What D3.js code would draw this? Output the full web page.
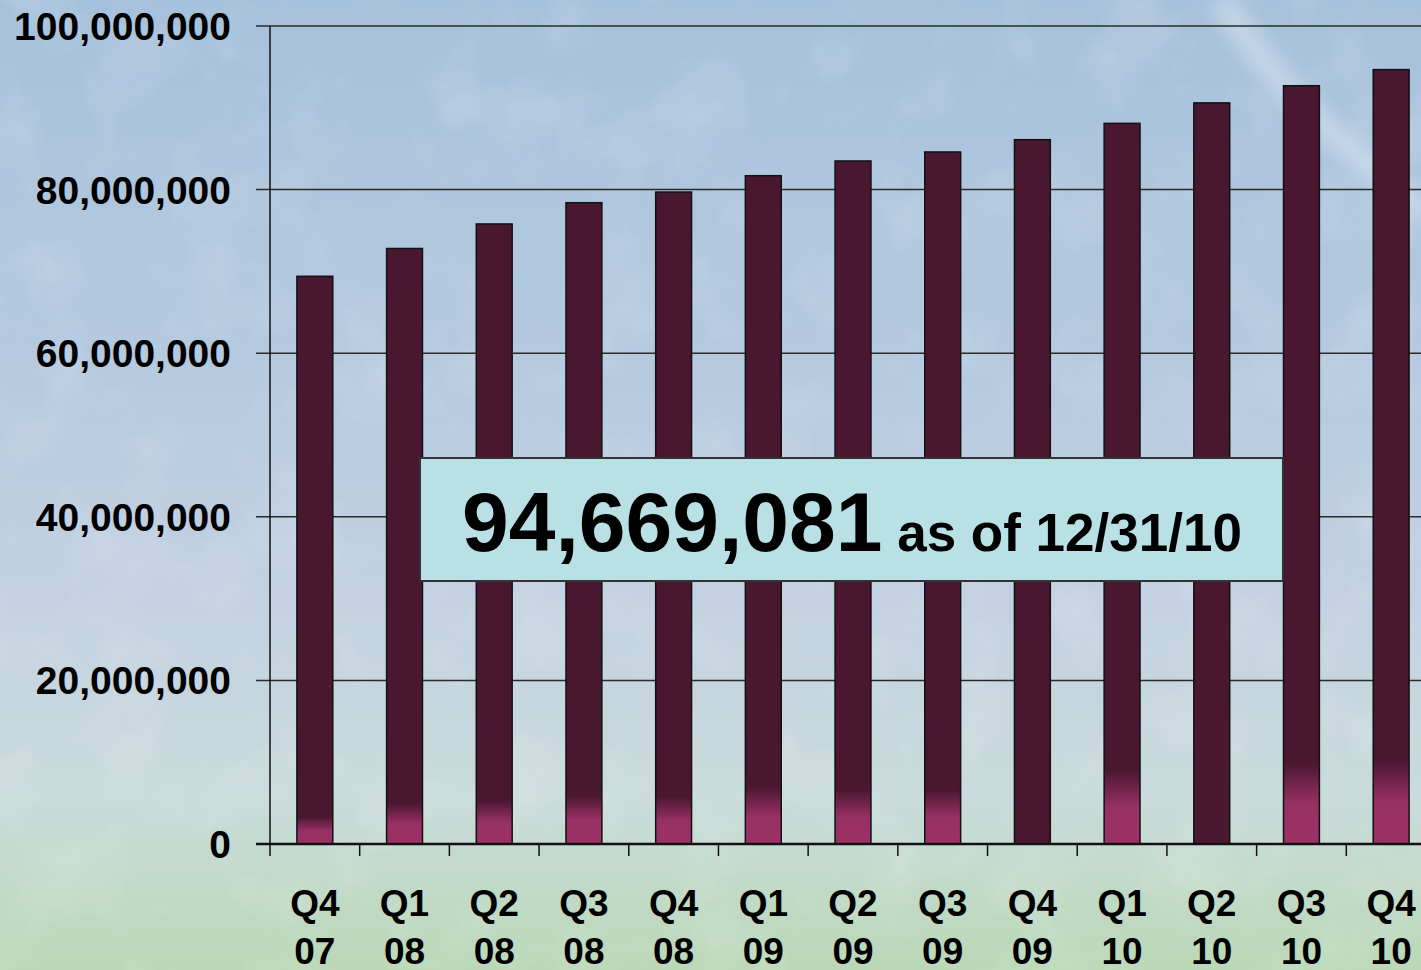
<!DOCTYPE html>
<html>
<head>
<meta charset="utf-8">
<script src="https://cdn.jsdelivr.net/npm/d3@7"></script>
<style>
  html, body { margin: 0; padding: 0; overflow: hidden; }
  svg { display: block; font-family: "Liberation Sans", Arial, sans-serif; font-weight: bold; }
</style>
</head>
<body>
<svg width="1421" height="970"></svg>
<script>
// Quarterly totals
const quarters = ["Q4", "Q1", "Q2", "Q3", "Q4", "Q1", "Q2", "Q3", "Q4", "Q1", "Q2", "Q3", "Q4"];
const years    = ["07", "08", "08", "08", "08", "09", "09", "09", "09", "10", "10", "10", "10"];
const totals   = [69400000, 72800000, 75800000, 78400000, 79700000, 81700000, 83500000,
                  84600000, 86100000, 88100000, 90600000, 92700000, 94669081];
const yTicks   = [0, 20000000, 40000000, 60000000, 80000000, 100000000];

// height (px) of the pink glow at the foot of each bar
const glow = [27, 41, 44, 49, 47, 57, 54, 54, 0, 74, 0, 81, 84];

const svg = d3.select("svg"),
      width = 1421,
      height = 970;

const margin = {left: 270, top: 26, bottom: 844};

const data = totals.map((v, i) => ({id: i, q: quarters[i], yr: years[i], value: v, glow: glow[i]}));

const x = d3.scaleBand()
    .domain(data.map(d => d.id))
    .range([margin.left, 1436])
    .paddingInner(0.6)
    .paddingOuter(0.3);

const y = d3.scaleLinear()
    .domain([0, 100000000])
    .range([margin.bottom, margin.top]);

const defs = svg.append("defs");

// background sky
const bg = defs.append("linearGradient")
    .attr("id", "bg")
    .attr("x1", 0).attr("y1", 0).attr("x2", 0).attr("y2", 1);
bg.append("stop").attr("offset", "0%").attr("stop-color", "#a6c1db");
bg.append("stop").attr("offset", "35%").attr("stop-color", "#b4c9df");
bg.append("stop").attr("offset", "62%").attr("stop-color", "#c3d1e2");
bg.append("stop").attr("offset", "82%").attr("stop-color", "#c9dbdb");
bg.append("stop").attr("offset", "100%").attr("stop-color", "#bad8b6");

const noise = defs.append("filter").attr("id", "noise")
    .attr("x", 0).attr("y", 0).attr("width", "100%").attr("height", "100%");
noise.append("feTurbulence")
    .attr("type", "fractalNoise")
    .attr("baseFrequency", "0.012")
    .attr("numOctaves", 4)
    .attr("seed", 7);
noise.append("feColorMatrix")
    .attr("type", "matrix")
    .attr("values", "0 0 0 0 1  0 0 0 0 1  0 0 0 0 1  0 0 0 1.6 -0.75");

const streak = defs.append("filter").attr("id", "blur")
    .attr("x", "-20%").attr("y", "-20%").attr("width", "140%").attr("height", "140%");
streak.append("feGaussianBlur").attr("stdDeviation", 9);

svg.append("rect")
    .attr("width", width).attr("height", height)
    .attr("fill", "url(#bg)");

svg.append("rect")
    .attr("width", width).attr("height", height)
    .attr("filter", "url(#noise)")
    .attr("opacity", 0.22);

// faint cloud streak top right
svg.append("path")
    .attr("d", "M1220,0 C1255,50 1290,100 1340,140 C1375,170 1405,195 1421,215")
    .attr("fill", "none")
    .attr("stroke", "#e4edf6")
    .attr("stroke-width", 26)
    .attr("opacity", 0.45)
    .attr("filter", "url(#blur)");

// gridlines
svg.append("g")
    .selectAll("line")
    .data(yTicks.filter(d => d > 0))
    .enter().append("line")
    .attr("x1", margin.left - 14)
    .attr("x2", width)
    .attr("y1", d => y(d))
    .attr("y2", d => y(d))
    .attr("stroke", "#2a2a2a")
    .attr("stroke-width", 1.5);

// bar gradients, one per bar
data.forEach(d => {
    const h = y(0) - y(d.value);
    const g = defs.append("linearGradient")
        .attr("id", "bar" + d.id)
        .attr("x1", 0).attr("y1", 0).attr("x2", 0).attr("y2", 1);
    const darkEnd = Math.max(0, 1 - d.glow / h);
    const pinkStart = Math.max(0, 1 - 0.5 * d.glow / h);
    g.append("stop").attr("offset", 0).attr("stop-color", "#4a1731");
    g.append("stop").attr("offset", darkEnd).attr("stop-color", "#4a1731");
    g.append("stop").attr("offset", pinkStart).attr("stop-color", d.glow ? "#973063" : "#4a1731");
    g.append("stop").attr("offset", 1).attr("stop-color", d.glow ? "#9b3266" : "#4a1731");
});

svg.append("g")
    .selectAll("rect")
    .data(data)
    .enter().append("rect")
    .attr("x", d => x(d.id))
    .attr("y", d => y(d.value))
    .attr("width", x.bandwidth())
    .attr("height", d => y(0) - y(d.value))
    .attr("fill", d => `url(#bar${d.id})`)
    .attr("stroke", "#111")
    .attr("stroke-width", 1.5);

// y axis
svg.append("line")
    .attr("x1", margin.left).attr("x2", margin.left)
    .attr("y1", margin.top).attr("y2", margin.bottom + 12)
    .attr("stroke", "#111").attr("stroke-width", 1.5);

svg.append("line")
    .attr("x1", margin.left - 14).attr("x2", width)
    .attr("y1", y(0)).attr("y2", y(0))
    .attr("stroke", "#111").attr("stroke-width", 2.5);

svg.append("g")
    .selectAll("text")
    .data(yTicks)
    .enter().append("text")
    .attr("x", 231)
    .attr("y", d => y(d))
    .attr("dy", "0.36em")
    .attr("text-anchor", "end")
    .attr("font-size", 39)
    .attr("fill", "#000")
    .text(d => d3.format(",")(d));

// x ticks at band boundaries
const step = x.step();
svg.append("g")
    .selectAll("line")
    .data(data)
    .enter().append("line")
    .attr("x1", d => x(d.id) - x.paddingOuter() * step + step)
    .attr("x2", d => x(d.id) - x.paddingOuter() * step + step)
    .attr("y1", y(0))
    .attr("y2", y(0) + 12)
    .attr("stroke", "#111")
    .attr("stroke-width", 1.5);

const xl = svg.append("g")
    .selectAll("text")
    .data(data)
    .enter().append("text")
    .attr("text-anchor", "middle")
    .attr("font-size", 37)
    .attr("fill", "#000");

xl.append("tspan")
    .attr("x", d => x(d.id) + x.bandwidth() / 2)
    .attr("y", 916)
    .text(d => d.q);

xl.append("tspan")
    .attr("x", d => x(d.id) + x.bandwidth() / 2)
    .attr("y", 964)
    .text(d => d.yr);

// callout box
const last = data[data.length - 1];
svg.append("rect")
    .attr("x", 420).attr("y", 458)
    .attr("width", 863).attr("height", 123)
    .attr("fill", "#b9e0e4")
    .attr("stroke", "#333")
    .attr("stroke-width", 2);

const callout = svg.append("text")
    .attr("x", 852)
    .attr("y", 551)
    .attr("text-anchor", "middle")
    .attr("fill", "#000");

callout.append("tspan")
    .attr("font-size", 84)
    .text(d3.format(",")(last.value));

callout.append("tspan")
    .attr("font-size", 53)
    .text(" as of 12/31/10");
</script>
</body>
</html>
